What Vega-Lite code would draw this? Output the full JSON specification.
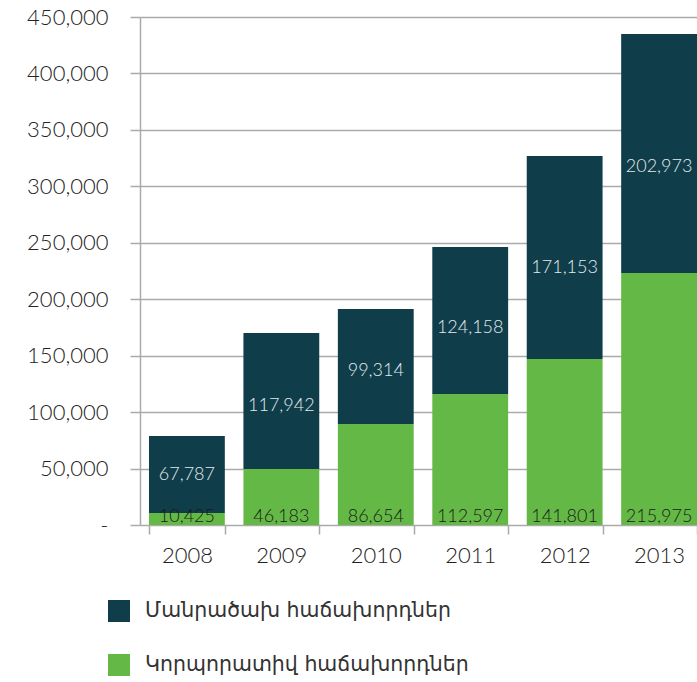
{
  "$schema": "https://vega.github.io/schema/vega-lite/v6.json",
  "width": 557,
  "height": 508,
  "autosize": {"type": "none"},
  "padding": {"left": 140, "top": 17, "right": 0, "bottom": 157},
  "background": "white",
  "config": {"view": {"stroke": null}, "font": "DejaVu Sans"},
  "data": {"values": [
    {"year": "2008", "series": "Կորպորատիվ հաճախորդներ", "value": 10600, "label": 10425},
    {"year": "2008", "series": "Մանրածախ հաճախորդներ", "value": 68200, "label": 67787},
    {"year": "2009", "series": "Կորպորատիվ հաճախորդներ", "value": 49700, "label": 46183},
    {"year": "2009", "series": "Մանրածախ հաճախորդներ", "value": 120300, "label": 117942},
    {"year": "2010", "series": "Կորպորատիվ հաճախորդներ", "value": 89500, "label": 86654},
    {"year": "2010", "series": "Մանրածախ հաճախորդներ", "value": 101800, "label": 99314},
    {"year": "2011", "series": "Կորպորատիվ հաճախորդներ", "value": 116000, "label": 112597},
    {"year": "2011", "series": "Մանրածախ հաճախորդներ", "value": 130200, "label": 124158},
    {"year": "2012", "series": "Կորպորատիվ հաճախորդներ", "value": 147000, "label": 141801},
    {"year": "2012", "series": "Մանրածախ հաճախորդներ", "value": 179900, "label": 171153},
    {"year": "2013", "series": "Կորպորատիվ հաճախորդներ", "value": 223200, "label": 215975},
    {"year": "2013", "series": "Մանրածախ հաճախորդներ", "value": 211700, "label": 202973}
  ]},
  "encoding": {
    "x": {
      "field": "year", "type": "ordinal",
      "scale": {"paddingInner": 0.197, "paddingOuter": 0.0476, "align": 1},
      "axis": {
        "title": null, "labelAngle": 0, "domain": false, "tickBand": "extent",
        "tickSize": 9, "tickColor": "#aaaaaa", "tickWidth": 1.5,
        "labelPadding": 11, "labelFont": "Lato", "labelFontSize": 22, "labelFontWeight": 300,
        "labelColor": "#222222", "grid": false
      }
    }
  },
  "layer": [
    {
      "mark": {"type": "bar"},
      "encoding": {
        "y": {
          "field": "value", "type": "quantitative", "stack": "zero",
          "scale": {"domain": [0, 450000]},
          "axis": {
            "title": null,
            "values": [0, 50000, 100000, 150000, 200000, 250000, 300000, 350000, 400000, 450000],
            "labelExpr": "datum.value === 0 ? '-' : format(datum.value, ',')",
            "tickSize": 10, "labelPadding": 22,
            "domainColor": "#aaaaaa", "domainWidth": 1.5,
            "tickColor": "#aaaaaa", "tickWidth": 1.5,
            "gridColor": "#aaaaaa", "gridWidth": 1.5, "grid": true,
            "labelFont": "Lato", "labelFontSize": 22, "labelFontWeight": 300, "labelColor": "#222222"
          }
        },
        "color": {
          "field": "series", "type": "nominal",
          "scale": {
            "domain": ["Մանրածախ հաճախորդներ", "Կորպորատիվ հաճախորդներ"],
            "range": ["#0f3d4a", "#64b946"]
          },
          "legend": {
            "title": null, "orient": "none", "legendX": -32, "legendY": 583,
            "direction": "vertical",
            "symbolType": "square", "symbolSize": 484, "symbolStrokeWidth": 0,
            "symbolOpacity": 1,
            "labelFontSize": 20.5, "labelColor": "#333333", "labelOffset": 15,
            "rowPadding": 32, "labelLimit": 500
          }
        },
        "order": {"field": "series", "sort": "ascending"}
      }
    },
    {
      "mark": {"type": "text", "fontSize": 18, "font": "Lato", "fontWeight": 300, "fill": "#e3eaec"},
      "encoding": {
        "y": {"field": "label", "type": "quantitative", "stack": "zero", "bandPosition": 0.5},
        "detail": {"field": "series"},
        "order": {"field": "series", "sort": "ascending"},
        "text": {
          "condition": {"test": "datum.series == 'Կորպորատիվ հաճախորդներ'", "value": ""},
          "field": "label", "type": "quantitative", "format": ","
        }
      }
    },
    {
      "transform": [{"filter": "datum.series == 'Կորպորատիվ հաճախորդներ'"}],
      "mark": {"type": "text", "fontSize": 18, "font": "Lato", "fontWeight": 300, "fill": "#1a1a1a", "baseline": "alphabetic", "dy": -3},
      "encoding": {
        "y": {"datum": 0, "type": "quantitative"},
        "text": {"field": "label", "type": "quantitative", "format": ","}
      }
    }
  ]
}
